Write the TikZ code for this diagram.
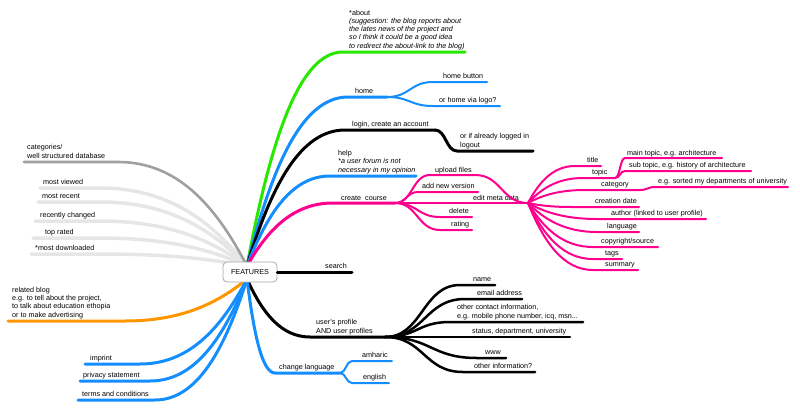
\documentclass[tikz,border=0pt]{standalone}
\usepackage{fontspec}
\setmainfont{Liberation Sans}
\usetikzlibrary{calc}
\definecolor{mapgreen}{RGB}{40,232,0}
\definecolor{mapblue}{RGB}{20,142,255}
\definecolor{mappink}{RGB}{255,0,142}
\definecolor{maporange}{RGB}{255,150,0}
\definecolor{mapgray}{RGB}{160,160,160}
\definecolor{mapfaint}{RGB}{230,230,230}
\newcommand{\mapfont}{\fontsize{7.2}{8.2}\selectfont}
\tikzset{
  lbl/.style={anchor=base west,inner sep=0pt,align=left,font=\mapfont},
  stem/.style={line width=3pt,to path={let \p1=(\tikztostart),\p2=(\tikztotarget) in
    .. controls ({\x1+0.25*(\x2-\x1)},{\y1+0.6*(\y2-\y1)}) and ({\x2-0.45*(\x2-\x1)},\y2) .. (\tikztotarget)}},
  twig/.style={line width=2pt,to path={let \p1=(\tikztostart),\p2=(\tikztotarget) in
    .. controls ({0.5*(\x1+\x2)},\y1) and ({0.5*(\x1+\x2)},\y2) .. (\tikztotarget)}},
  hubbox/.style={draw=gray!70,fill=white,rounded corners=4pt,line width=0.8pt,minimum width=54pt,minimum height=20pt,inner sep=2pt}
}
\begin{document}
\begin{tikzpicture}[x=1pt,y=-1pt,font=\mapfont,line cap=round]
\useasboundingbox (0,0) rectangle (800,410);
\coordinate (hubT) at (247,266);
\coordinate (hubB) at (247,279);

% left side
\coordinate (categories-a) at (24,162);
\coordinate (categories-b) at (118,162);
\node[lbl] (categories) at (27,158) {categories/\\well structured database};
\foreach \nm/\txt/\xt/\xa/\yl in {viewed/most viewed/43/40/188,recent/most recent/42/38/202,changed/recently changed/40/35/221,rated/top rated/45/33/238,downloaded/*most downloaded/35/31/254}{
  \coordinate (\nm-a) at (\xa,\yl);
  \coordinate (\nm-b) at (100,\yl);
  \node[lbl] (\nm) at (\xt,\yl-4) {\txt};
  \draw[stem,mapfaint,line width=3.5pt] (hubT) to (\nm-b) -- (\nm-a);
}
\draw[stem,mapgray,line width=2.6pt] (hubT) to (categories-b) -- (categories-a);

\coordinate (blog-a) at (8,321);
\coordinate (blog-b) at (125,321);
\node[lbl] (blog) at (12,317) {related blog\\e.g. to tell about the project,\\to talk about education ethopia\\or to make advertising};
\draw[stem,maporange] (hubB) to (blog-b) -- (blog-a);

\foreach \nm/\txt/\xt/\xa/\xb/\yl in {imprint/imprint/90/85/140/364,privacy/privacy statement/83/80/150/381,terms/terms and conditions/82/78/155/400}{
  \coordinate (\nm-a) at (\xa,\yl);
  \coordinate (\nm-b) at (\xb,\yl);
  \node[lbl] (\nm) at (\xt,\yl-4) {\txt};
  \draw[stem,mapblue] (hubB) to (\nm-b) -- (\nm-a);
}

% upper right
\coordinate (about-a) at (343,52);
\coordinate (about-b) at (465,52);
\node[lbl] (about) at (349,48) {*about\\\textit{(suggestion: the blog reports about}\\\textit{the lates news of the project and}\\\textit{so I think it could be a good idea}\\\textit{to redirect the about-link to the blog)}};
\draw[stem,mapgreen] (hubT) to (about-a) -- (about-b);

\coordinate (home-a) at (348,97);
\coordinate (home-b) at (387,97);
\node[lbl] (home) at (355,93) {home};
\draw[stem,mapblue] (hubT) to (home-a) -- (home-b);
\coordinate (button-a) at (433,82);
\coordinate (button-b) at (487,82);
\node[lbl] (button) at (443,78) {home button};
\draw[twig,mapblue] (home-b) to (button-a) -- (button-b);
\coordinate (logo-a) at (433,106);
\coordinate (logo-b) at (500,106);
\node[lbl] (logo) at (439,102) {or home via logo?};
\draw[twig,mapblue] (home-b) to (logo-a) -- (logo-b);

\coordinate (login-a) at (345,130);
\coordinate (login-b) at (435,130);
\node[lbl] (login) at (352,126) {login, create an account};
\draw[stem] (hubT) to (login-a) -- (login-b);
\coordinate (logout-a) at (457,151);
\coordinate (logout-b) at (533,151);
\node[lbl] (logout) at (460,147) {or if already logged in\\logout};
\draw[twig,line width=3pt] (login-b) to (logout-a) -- (logout-b);

\coordinate (help-a) at (330,176);
\coordinate (help-b) at (416,176);
\node[lbl] (help) at (338,172) {help\\\textit{*a user forum is not}\\\textit{necessary in my opinion}};
\draw[stem,mapblue] (hubT) to (help-a) -- (help-b);

% create course
\coordinate (create-a) at (333,203);
\coordinate (create-b) at (395,203);
\coordinate (meta) at (528,203);
\node[lbl] (create) at (341,200) {create\ \ course};
\draw[stem,mappink] (hubT) to (create-a) -- (create-b);
\node[lbl] (editmeta) at (473,200) {edit meta data};
\draw[mappink,line width=2.5pt] (create-b) -- (meta);
\coordinate (upload-a) at (430,175);
\coordinate (upload-b) at (475,175);
\node[lbl] (upload) at (435,172) {upload files};
\draw[twig,mappink] (create-b) to (upload-a) -- (upload-b) to (meta);
\foreach \nm/\txt/\xt/\xa/\xb/\yl in {version/add new version/422/418/478/192,delete/delete/449/440/472/217,rating/rating/451/440/472/230}{
  \coordinate (\nm-a) at (\xa,\yl);
  \coordinate (\nm-b) at (\xb,\yl);
  \node[lbl] (\nm) at (\xt,\yl-4) {\txt};
  \draw[twig,mappink] (create-b) to (\nm-a) -- (\nm-b);
}

% meta data
\foreach \nm/\txt/\xt/\xa/\xb/\yl in {title/title/587/575/601/166,topic/topic/592/583/615/178,category/category/601/585/640/190,cdate/creation date/595/572/639/207,author/author (linked to user profile)/611/597/706/219,language/language/607/597/639/232,copyright/{copyright/source}/601/593/658/247,tags/tags/605/593/622/259,summary/summary/605/593/638/270}{
  \coordinate (\nm-a) at (\xa,\yl);
  \coordinate (\nm-b) at (\xb,\yl);
  \node[lbl] (\nm) at (\xt,\yl-4) {\txt};
  \draw[stem,mappink,line width=2pt] (meta) to (\nm-a) -- (\nm-b);
}
\coordinate (maintopic-a) at (625,158);
\coordinate (maintopic-b) at (722,158);
\node[lbl] (maintopic) at (627,155) {main topic, e.g. architecture};
\draw[twig,mappink] (topic-b) to (maintopic-a) -- (maintopic-b);
\coordinate (subtopic-a) at (625,171);
\coordinate (subtopic-b) at (751,171);
\node[lbl] (subtopic) at (629,167) {sub topic, e.g. history of architecture};
\draw[twig,mappink] (topic-b) to (subtopic-a) -- (subtopic-b);
\coordinate (sorted-a) at (655,187);
\coordinate (sorted-b) at (788,187);
\node[lbl] (sorted) at (658,183) {e.g. sorted my departments of university};
\draw[twig,mappink] (category-b) to (sorted-a) -- (sorted-b);

% lower right
\coordinate (search-b) at (352,272);
\node[lbl] (search) at (325,268) {search};

\coordinate (profile-a) at (310,337);
\coordinate (profile-b) at (385,337);
\node[lbl] (profile) at (316,333) {user's profile\\AND user profiles};
\draw[stem] (hubB) to (profile-a) -- (profile-b);
\foreach \nm/\txt/\xt/\xa/\xb/\yl in {name/name/473/460/495/285,email/email address/477/465/522/299,www/www/485/477/506/358,other/other information?/474/463/535/372}{
  \coordinate (\nm-a) at (\xa,\yl);
  \coordinate (\nm-b) at (\xb,\yl);
  \node[lbl] (\nm) at (\xt,\yl-4) {\txt};
  \draw[twig,line width=2.5pt] (profile-b) to (\nm-a) -- (\nm-b);
}
\coordinate (contact-a) at (450,322);
\coordinate (contact-b) at (583,322);
\node[lbl] (contact) at (457,318) {other contact information,\\e.g. mobile phone number, icq, msn...};
\draw[twig,line width=2.5pt] (profile-b) to (contact-a) -- (contact-b);
\coordinate (status-b) at (570,337);
\node[lbl] (status) at (472,333) {status, department, university};
\draw[line width=2.5pt] (profile-b) -- (status-b);

\coordinate (changelang-a) at (275,373);
\coordinate (changelang-b) at (340,373);
\node[lbl] (changelang) at (279,369) {change language};
\draw[stem,mapblue] (hubB) to (changelang-a) -- (changelang-b);
\coordinate (amharic-a) at (352,361);
\coordinate (amharic-b) at (392,361);
\node[lbl] (amharic) at (362,357) {amharic};
\draw[twig,mapblue] (changelang-b) to (amharic-a) -- (amharic-b);
\coordinate (english-a) at (352,383);
\coordinate (english-b) at (389,383);
\node[lbl] (english) at (363,379) {english};
\draw[twig,mapblue] (changelang-b) to (english-a) -- (english-b);

\node[hubbox] (features) at (250,272) {FEATURES};
\draw[line width=3pt] (features.east) -- (search-b);
\end{tikzpicture}
\end{document}
